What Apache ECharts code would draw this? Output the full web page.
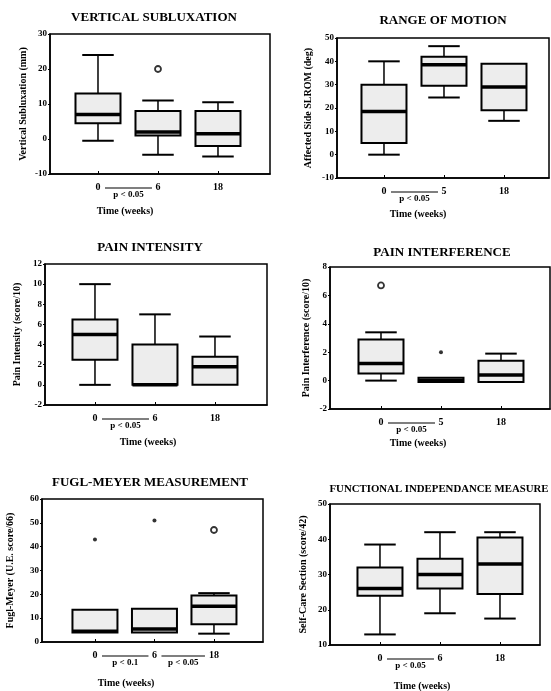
<!DOCTYPE html>
<html>
<head>
<meta charset="utf-8">
<script src="https://cdn.jsdelivr.net/npm/echarts@6/dist/echarts.min.js"></script>
<style>
  html, body { margin: 0; padding: 0; background: #fff; }
  #chart { width: 551px; height: 691px; }
</style>
</head>
<body>
<div id="chart"></div>
<script>
// each box: [min, Q1, median, Q3, max]; outliers: [time index, value, marker]
var subluxTimes = ['0', '6', '18'];
var subluxBoxes = [[-0.5, 4.5, 7, 13, 24], [-4.5, 1, 2, 8, 11], [-5, -2, 1.5, 8, 10.5]];
var subluxOutliers = [[1, 20, 'open']];

var romTimes = ['0', '5', '18'];
var romBoxes = [[0, 5, 18.5, 30, 40], [24.5, 29.5, 38.5, 42, 46.5], [14.5, 19, 29, 39, 39]];
var romOutliers = [];

var painIntTimes = ['0', '6', '18'];
var painIntBoxes = [[0, 2.5, 5, 6.5, 10], [0, 0, 0, 4, 7], [0, 0, 1.8, 2.8, 4.8]];
var painIntOutliers = [];

var painIntfTimes = ['0', '5', '18'];
var painIntfBoxes = [[0, 0.5, 1.2, 2.9, 3.4], [-0.1, -0.1, 0, 0.2, 0.2], [-0.1, -0.1, 0.4, 1.4, 1.9]];
var painIntfOutliers = [[0, 6.7, 'open'], [1, 2, 'filled']];

var fuglTimes = ['0', '6', '18'];
var fuglBoxes = [[4, 4, 4.5, 13.5, 13.5], [4, 4, 5.5, 14, 14], [3.5, 7.5, 15, 19.5, 20.5]];
var fuglOutliers = [[0, 43, 'filled'], [1, 51, 'filled'], [2, 47, 'open']];

var fimTimes = ['0', '6', '18'];
var fimBoxes = [[13, 24, 26, 32, 38.5], [19, 26, 30, 34.5, 42], [17.5, 24.5, 33, 40.5, 42]];
var fimOutliers = [];

var titles = ['VERTICAL SUBLUXATION', 'RANGE OF MOTION', 'PAIN INTENSITY',
  'PAIN INTERFERENCE', 'FUGL-MEYER MEASUREMENT', 'FUNCTIONAL INDEPENDANCE MEASURE'];
var yNames = ['Vertical Subluxation (mm)', 'Affected Side SLROM (deg)', 'Pain Intensity (score/10)',
  'Pain Interference (score/10)', 'Fugl-Meyer (U.E. score/66)', 'Self-Care Section (score/42)'];
var yRanges = [[-10, 30, 10], [-10, 50, 10], [-2, 12, 2], [-2, 8, 2], [0, 60, 10], [10, 50, 10]];
var xTitle = 'Time (weeks)';

// [panel, from index, to index, label]
var sigBars = [
  [0, 0, 1, 'p < 0.05'],
  [1, 0, 1, 'p < 0.05'],
  [2, 0, 1, 'p < 0.05'],
  [3, 0, 1, 'p < 0.05'],
  [4, 0, 1, 'p < 0.1'],
  [4, 1, 2, 'p < 0.05'],
  [5, 0, 1, 'p < 0.05']
];

var allTimes = [subluxTimes, romTimes, painIntTimes, painIntfTimes, fuglTimes, fimTimes];
var allBoxes = [subluxBoxes, romBoxes, painIntBoxes, painIntfBoxes, fuglBoxes, fimBoxes];
var allOutliers = [subluxOutliers, romOutliers, painIntOutliers, painIntfOutliers, fuglOutliers, fimOutliers];

// layout of the six panels
var layout = [
  { left: 50, top: 34, width: 220, height: 140, xMin: -0.8, xMax: 2.867, tx: 154, ty: 18, ts: 13, nameGap: 22, timeX: 125, timeY: 211 },
  { left: 337, top: 38, width: 212, height: 140, xMin: -0.783, xMax: 2.75, tx: 443, ty: 21, ts: 13, nameGap: 24, timeX: 418, timeY: 214 },
  { left: 45, top: 264, width: 222, height: 141, xMin: -0.833, xMax: 2.867, tx: 150, ty: 248, ts: 13, nameGap: 23, timeX: 148, timeY: 442 },
  { left: 330, top: 267, width: 220, height: 142, xMin: -0.85, xMax: 2.817, tx: 442, ty: 253, ts: 13, nameGap: 19, timeX: 418, timeY: 443 },
  { left: 42, top: 499, width: 221, height: 143, xMin: -0.89, xMax: 2.824, tx: 150, ty: 483, ts: 13, nameGap: 27, timeX: 126, timeY: 683 },
  { left: 330, top: 504, width: 210, height: 141, xMin: -0.833, xMax: 2.667, tx: 439, ty: 489, ts: 10.8, nameGap: 22, timeX: 422, timeY: 686 }
];

var FONT = '"Liberation Serif", "DejaVu Serif", serif';
var BOX_W = 45;

var chartDom = document.getElementById('chart');
var myChart = echarts.init(chartDom);

function renderBox(params, api) {
  var x = api.value(0);
  var lo = api.coord([x, api.value(1)]);
  var q1 = api.coord([x, api.value(2)]);
  var med = api.coord([x, api.value(3)]);
  var q3 = api.coord([x, api.value(4)]);
  var hi = api.coord([x, api.value(5)]);
  var cx = lo[0];
  var half = BOX_W / 2;
  var cap = BOX_W * 0.35;
  var kids = [];
  var ls = { stroke: '#000', lineWidth: 1.5 };
  if (hi[1] < q3[1] - 0.5) {
    kids.push({ type: 'line', shape: { x1: cx, y1: q3[1], x2: cx, y2: hi[1] }, style: ls });
    kids.push({ type: 'line', shape: { x1: cx - cap, y1: hi[1], x2: cx + cap, y2: hi[1] }, style: { stroke: '#000', lineWidth: 2 } });
  }
  if (lo[1] > q1[1] + 0.5) {
    kids.push({ type: 'line', shape: { x1: cx, y1: q1[1], x2: cx, y2: lo[1] }, style: ls });
    kids.push({ type: 'line', shape: { x1: cx - cap, y1: lo[1], x2: cx + cap, y2: lo[1] }, style: { stroke: '#000', lineWidth: 2 } });
  }
  kids.push({
    type: 'rect',
    shape: { x: cx - half, y: q3[1], width: BOX_W, height: Math.max(q1[1] - q3[1], 2) },
    style: { fill: '#ededed', stroke: '#000', lineWidth: 2 }
  });
  kids.push({ type: 'line', shape: { x1: cx - half, y1: med[1], x2: cx + half, y2: med[1] }, style: { stroke: '#000', lineWidth: 3.5 } });
  return { type: 'group', children: kids };
}

var grids = [], xAxes = [], yAxes = [], series = [];

layout.forEach(function (p, i) {
  var times = allTimes[i];
  grids.push({
    left: p.left, top: p.top, width: p.width, height: p.height,
    show: true, borderColor: '#000', borderWidth: 1.5
  });
  xAxes.push({
    type: 'value', gridIndex: i, min: p.xMin, max: p.xMax,
    splitLine: { show: false },
    axisLine: { show: true, onZero: false, lineStyle: { color: '#000', width: 1.5 } },
    axisTick: { show: true, inside: true, length: 3, customValues: [0, 1, 2], lineStyle: { color: '#000' } },
    axisLabel: {
      customValues: [0, 1, 2], margin: 8,
      formatter: function (v) { return times[Math.round(v)]; },
      color: '#000', fontFamily: FONT, fontWeight: 'bold', fontSize: 10
    }
  });
  yAxes.push({
    type: 'value', gridIndex: i, min: yRanges[i][0], max: yRanges[i][1], interval: yRanges[i][2],
    splitLine: { show: false },
    axisLine: { show: true, onZero: false, lineStyle: { color: '#000', width: 1.5 } },
    axisTick: { show: true, length: 2, lineStyle: { color: '#000' } },
    axisLabel: { margin: 3, color: '#000', fontFamily: FONT, fontWeight: 'bold', fontSize: 9 },
    name: yNames[i], nameLocation: 'middle', nameGap: p.nameGap,
    nameTextStyle: { color: '#000', fontFamily: FONT, fontWeight: 'bold', fontSize: 10 }
  });
  series.push({
    type: 'custom', xAxisIndex: i, yAxisIndex: i,
    renderItem: renderBox,
    encode: { x: 0, y: [1, 2, 3, 4, 5] },
    data: allBoxes[i].map(function (b, k) { return [k].concat(b); }),
    silent: true
  });
  series.push({
    type: 'scatter', xAxisIndex: i, yAxisIndex: i, silent: true, z: 5,
    data: allOutliers[i].map(function (o) {
      var open = o[2] === 'open';
      return {
        value: [o[0], o[1]],
        symbol: 'circle',
        symbolSize: open ? 6 : 4,
        itemStyle: { color: open ? '#fff' : '#000', borderColor: '#000', borderWidth: open ? 1.8 : 0 }
      };
    })
  });
});

var option = {
  backgroundColor: '#fff',
  animation: false,
  grid: grids,
  xAxis: xAxes,
  yAxis: yAxes,
  series: series
};

myChart.setOption(option);

// titles, x-axis titles and significance bars
var graphics = [];
layout.forEach(function (p, i) {
  graphics.push({
    type: 'text', x: p.tx, y: p.ty,
    style: { text: titles[i], textAlign: 'center', textVerticalAlign: 'middle', fill: '#000',
      font: 'bold ' + p.ts + 'px ' + FONT }
  });
  graphics.push({
    type: 'text', x: p.timeX, y: p.timeY,
    style: { text: xTitle, textAlign: 'center', textVerticalAlign: 'middle', fill: '#000',
      font: 'bold 10px ' + FONT }
  });
});
sigBars.forEach(function (s) {
  var p = layout[s[0]];
  var x1 = myChart.convertToPixel({ xAxisIndex: s[0] }, s[1]) + 7;
  var x2 = myChart.convertToPixel({ xAxisIndex: s[0] }, s[2]) - (allTimes[s[0]][s[2]].length > 1 ? 9 : 6);
  var y = p.top + p.height + 14;
  graphics.push({
    type: 'line', shape: { x1: x1, y1: y, x2: x2, y2: y },
    style: { stroke: '#000', lineWidth: 1.2 }
  });
  graphics.push({
    type: 'text', x: (x1 + x2) / 2, y: y + 7,
    style: { text: s[3], textAlign: 'center', textVerticalAlign: 'middle', fill: '#000',
      font: 'bold 9px ' + FONT }
  });
});
myChart.setOption({ graphic: graphics });
</script>
</body>
</html>
